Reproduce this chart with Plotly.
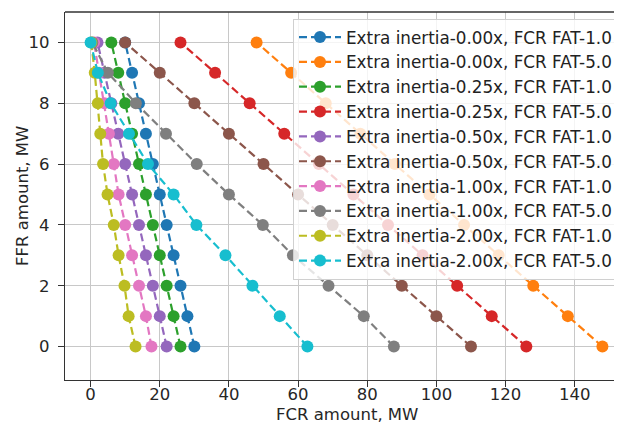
import plotly.graph_objects as go

ffr = [0, 1, 2, 3, 4, 5, 6, 7, 8, 9, 10]

labels = [
    "Extra inertia-0.00x, FCR FAT-1.0",
    "Extra inertia-0.00x, FCR FAT-5.0",
    "Extra inertia-0.25x, FCR FAT-1.0",
    "Extra inertia-0.25x, FCR FAT-5.0",
    "Extra inertia-0.50x, FCR FAT-1.0",
    "Extra inertia-0.50x, FCR FAT-5.0",
    "Extra inertia-1.00x, FCR FAT-1.0",
    "Extra inertia-1.00x, FCR FAT-5.0",
    "Extra inertia-2.00x, FCR FAT-1.0",
    "Extra inertia-2.00x, FCR FAT-5.0",
]

fcr_000_fat1 = [30, 28, 26, 24, 22, 20, 18, 16, 14, 12, 10]
fcr_000_fat5 = [148, 138, 128, 118, 108, 98, 88, 78, 68, 58, 48]
fcr_025_fat1 = [26, 24, 22, 20, 18, 16, 14, 12, 10, 8, 6]
fcr_025_fat5 = [126, 116, 106, 96, 86, 76, 66, 56, 46, 36, 26]
fcr_050_fat1 = [22, 20, 18, 16, 14, 12, 10, 8, 6, 4, 2]
fcr_050_fat5 = [110, 100, 90, 80, 70, 60, 50, 40, 30, 20, 10]
fcr_100_fat1 = [17.6, 16, 14, 12, 10, 8.1, 6.7, 5.3, 4, 2.5, 1]
fcr_100_fat5 = [87.7, 79, 68.8, 58.5, 49.8, 40, 30.7, 21.8, 13.1, 5, 0.5]
fcr_200_fat1 = [13, 11, 9.8, 8.1, 6.7, 4.9, 3.6, 2.8, 2.1, 1.2, 0.2]
fcr_200_fat5 = [62.7, 54.7, 46.8, 39, 30.6, 24, 16.6, 11.1, 5.8, 2.1, 0]

series = [fcr_000_fat1, fcr_000_fat5, fcr_025_fat1, fcr_025_fat5, fcr_050_fat1,
          fcr_050_fat5, fcr_100_fat1, fcr_100_fat5, fcr_200_fat1, fcr_200_fat5]

colors = ["#1f77b4", "#ff7f0e", "#2ca02c", "#d62728", "#9467bd",
          "#8c564b", "#e377c2", "#7f7f7f", "#bcbd22", "#17becf"]

x_ticks = [0, 20, 40, 60, 80, 100, 120, 140]
y_ticks = [0, 2, 4, 6, 8, 10]

fig = go.Figure()
for lab, xs, c in zip(labels, series, colors):
    fig.add_trace(go.Scatter(
        x=xs, y=ffr, mode="lines+markers", name=lab,
        line=dict(color=c, width=2.2, dash="8px,4px"),
        marker=dict(color=c, size=12),
    ))

font = "DejaVu Sans, Liberation Sans, sans-serif"
fig.update_layout(
    width=622, height=427,
    margin=dict(l=57, r=2, t=4, b=55),
    paper_bgcolor="white", plot_bgcolor="white",
    font=dict(family=font, size=16.5, color="#262626"),
    showlegend=True,
    legend=dict(
        x=0.405, y=0.982, xanchor="left", yanchor="top",
        bgcolor="rgba(255,255,255,0.8)", bordercolor="#d0d0d0", borderwidth=1,
        font=dict(family=font, size=16.8, color="#222222"),
        tracegroupgap=0, itemwidth=42,
    ),
    xaxis=dict(
        range=[-7.4, 155.4], tickvals=x_ticks, ticktext=[str(v) for v in x_ticks],
        showgrid=True, gridcolor="#c8c8c8", gridwidth=1,
        showline=True, linecolor="#333333", linewidth=1.3, mirror=False,
        ticks="outside", ticklen=6, tickcolor="#333333", tickwidth=1.2,
        zeroline=False, automargin=False, ticklabelstandoff=-7,
    ),
    yaxis=dict(
        range=[-1.1, 11.0], tickvals=y_ticks, ticktext=[str(v) for v in y_ticks],
        showgrid=True, gridcolor="#c8c8c8", gridwidth=1,
        showline=True, linecolor="#333333", linewidth=1.3, mirror=True,
        ticks="outside", ticklen=6, tickcolor="#333333", tickwidth=1.2,
        zeroline=False, automargin=False, ticklabelstandoff=5,
    ),
)
fig.add_shape(type="line", xref="paper", yref="paper", x0=0, x1=1, y0=1, y1=1,
              line=dict(color="#333333", width=1.3))
fig.add_annotation(text="FCR amount, MW", xref="paper", yref="paper",
                   x=0.5, y=-0.093, xanchor="center", yanchor="middle",
                   showarrow=False, font=dict(size=16.5, color="#262626"))
fig.add_annotation(text="FFR amount, MW", xref="paper", yref="paper",
                   x=-0.0764, y=0.5, xanchor="center", yanchor="middle",
                   textangle=-90, showarrow=False, font=dict(size=16.5, color="#262626"))

fig.write_html("out.html")
